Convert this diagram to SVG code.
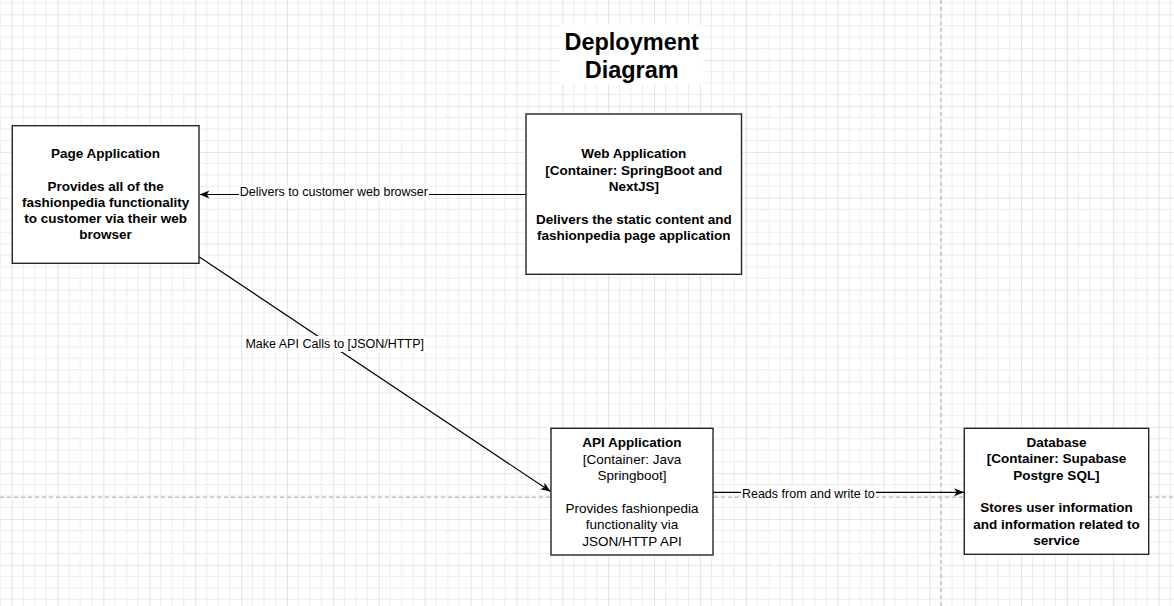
<svg xmlns="http://www.w3.org/2000/svg" width="1174" height="606" viewBox="0 0 1174 606">
<style>
  .box { fill: #ffffff; stroke: #262626; stroke-width: 1.4; }
  .nt { font-family: "Liberation Sans", Arial, sans-serif; font-size: 13.5px; fill: #000; text-anchor: middle; }
  .b { font-weight: bold; }
  .lbl { font-family: "Liberation Sans", Arial, sans-serif; font-size: 12.5px; fill: #000; text-anchor: middle; }
  .title { font-family: "Liberation Sans", Arial, sans-serif; font-size: 23.5px; font-weight: bold; fill: #000; text-anchor: middle; }
  .edge { stroke: #000; stroke-width: 1.2; fill: none; }
  .lbg { fill: #ffffff; }
  .guide { stroke: #c2c2c2; stroke-width: 1.5; stroke-dasharray: 4 3; fill: none; }
</style>
<defs>
  <pattern id="grid" x="11.7" y="14.3" width="45.88" height="45.88" patternUnits="userSpaceOnUse">
    <path d="M11.47 0V45.88M22.94 0V45.88M34.41 0V45.88M0 11.47H45.88M0 22.94H45.88M0 34.41H45.88" stroke="#ececec" stroke-width="1"/>
    <path d="M0 0V45.88M0 0H45.88" stroke="#d2d2d2" stroke-width="1.2"/>
  </pattern>
  <marker id="arr" markerWidth="11" markerHeight="9" refX="10" refY="4" orient="auto" markerUnits="userSpaceOnUse">
    <path d="M0,0 L10,4 L0,8 L2.8,4 Z" fill="#000"/>
  </marker>
</defs>

<rect x="0" y="0" width="1174" height="606" fill="#ffffff"/>
<rect x="0" y="0" width="1174" height="606" fill="url(#grid)"/>
<line class="guide" x1="0" y1="497.3" x2="1174" y2="497.3"/>
<line class="guide" x1="941" y1="0" x2="941" y2="606"/>

<g id="title">
  <rect x="560" y="25" width="143" height="59" fill="#ffffff"/>
  <text class="title" x="631.7" y="49.5">Deployment</text>
  <text class="title" x="631.7" y="77.5">Diagram</text>
</g>

<g id="connectors">
  <line class="edge" x1="526" y1="194.5" x2="199.5" y2="194.5" marker-end="url(#arr)"/>
  <rect class="lbg" x="239" y="186" width="190" height="15"/>
  <text class="lbl" x="333.8" y="195.8">Delivers to customer web browser</text>

  <line class="edge" x1="199" y1="256.7" x2="550.5" y2="491.5" marker-end="url(#arr)"/>
  <rect class="lbg" x="244" y="336" width="182" height="16"/>
  <text class="lbl" x="334.7" y="348">Make API Calls to [JSON/HTTP]</text>

  <line class="edge" x1="713" y1="492.3" x2="964" y2="492.3" marker-end="url(#arr)"/>
  <rect class="lbg" x="741" y="486" width="135" height="15"/>
  <text class="lbl" x="808.3" y="498.3">Reads from and write to</text>
</g>

<g id="page-application">
  <rect class="box" x="12.3" y="125.7" width="186.7" height="137.6"/>
  <text class="nt b" x="105.6" y="158">Page Application</text>
  <text class="nt b" x="105.6" y="190.5">Provides all of the</text>
  <text class="nt b" x="105.6" y="206.75">fashionpedia functionality</text>
  <text class="nt b" x="105.6" y="223">to customer via their web</text>
  <text class="nt b" x="105.6" y="239.25">browser</text>
</g>

<g id="web-application">
  <rect class="box" x="526" y="114" width="215.5" height="160.3"/>
  <text class="nt b" x="633.8" y="158.3">Web Application</text>
  <text class="nt b" x="633.8" y="174.6">[Container: SpringBoot and</text>
  <text class="nt b" x="633.8" y="190.9">NextJS]</text>
  <text class="nt b" x="633.8" y="223.5">Delivers the static content and</text>
  <text class="nt b" x="633.8" y="239.8">fashionpedia page application</text>
</g>

<g id="api-application">
  <rect class="box" x="551" y="428.3" width="162" height="126.7"/>
  <text class="nt b" x="632" y="447.2">API Application</text>
  <text class="nt" x="632" y="463.6">[Container: Java</text>
  <text class="nt" x="632" y="480">Springboot]</text>
  <text class="nt" x="632" y="512.8">Provides fashionpedia</text>
  <text class="nt" x="632" y="529.2">functionality via</text>
  <text class="nt" x="632" y="545.6">JSON/HTTP API</text>
</g>

<g id="database">
  <rect class="box" x="964.3" y="428.3" width="184.4" height="126"/>
  <text class="nt b" x="1056.5" y="447">Database</text>
  <text class="nt b" x="1056.5" y="463.3">[Container: Supabase</text>
  <text class="nt b" x="1056.5" y="479.6">Postgre SQL]</text>
  <text class="nt b" x="1056.5" y="512.2">Stores user information</text>
  <text class="nt b" x="1056.5" y="528.5">and information related to</text>
  <text class="nt b" x="1056.5" y="544.8">service</text>
</g>
</svg>
